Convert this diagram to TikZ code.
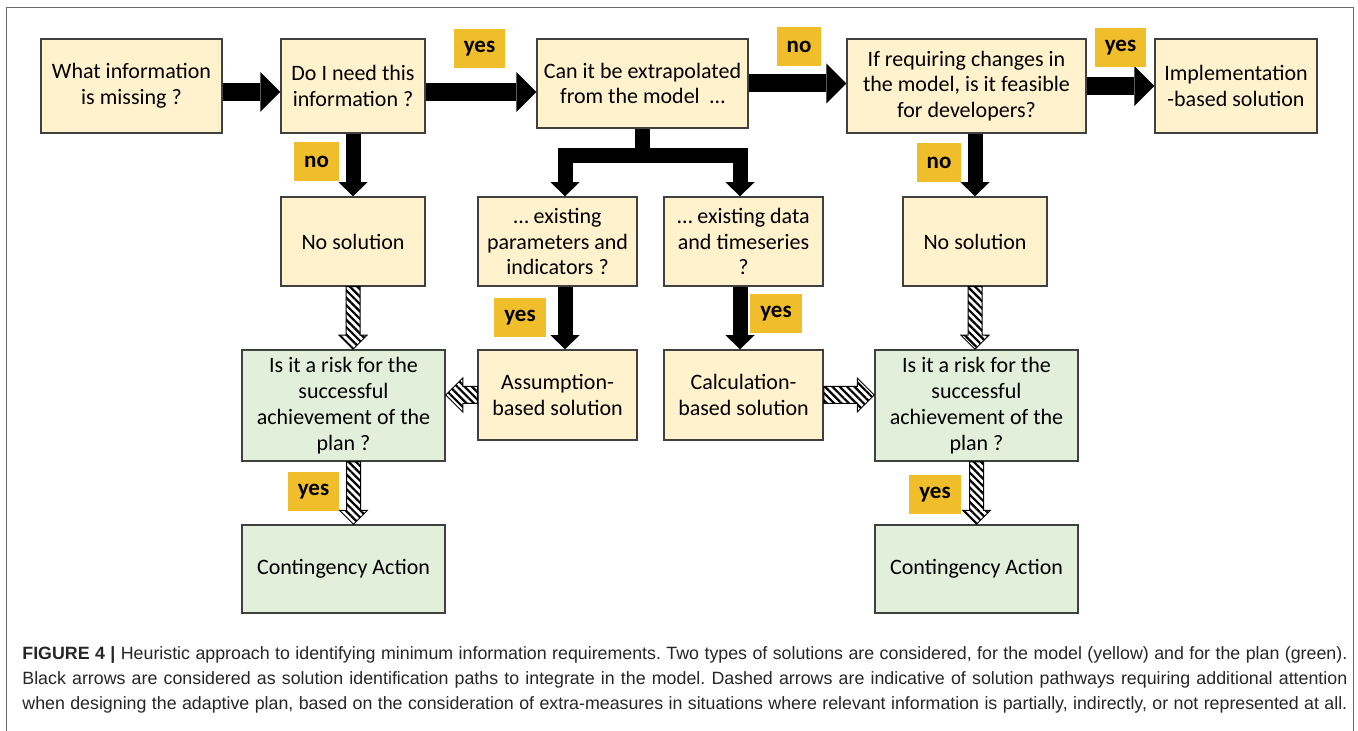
\documentclass[tikz,border=0pt]{standalone}
\usepackage{fontspec}
\setmainfont{Carlito}
\newfontfamily\capfont{Liberation Sans}
\usepackage{tikz}
\usetikzlibrary{arrows.meta,calc,patterns.meta}
\definecolor{FlowYellow}{HTML}{FFF2CC}
\definecolor{FlowGreen}{HTML}{E2EFDA}
\definecolor{FlowGold}{HTML}{F0BE2B}
\definecolor{FlowLine}{HTML}{404040}
\definecolor{FlowFrame}{HTML}{6A6A6A}

\tikzset{
  model/.style={draw=FlowLine,line width=.75pt,fill=FlowYellow,align=center,inner sep=2pt,
    font=\fontsize{11}{12.9}\selectfont},
  plan/.style={model,fill=FlowGreen},
  tag/.style={fill=FlowGold,font=\fontsize{11.5}{12}\selectfont\bfseries,minimum height=19.5pt,
    inner xsep=5pt,inner ysep=0pt},
  wide arrow/.style={line width=9pt,-{Triangle[width=20pt,length=10pt,line width=0pt]}},
  down arrow/.style={line width=7.5pt,-{Triangle[width=14.5pt,length=7pt,line width=0pt]}},
  hatched/.style={draw=black,line width=.5pt,pattern={Lines[angle=-45,distance=2.6pt,line width=1.1pt]}},
}

% hatched arrow: #1 half shaft width, #2 start, #3 tip
\newcommand\hatcharrow[3]{%
  \path #2 coordinate (hs) #3 coordinate (he);
  \path ($(he)!2*#1!(hs)$) coordinate (hm);
  \draw[hatched] ($(hs)!#1!90:(he)$) -- ($(hm)!#1!-90:(hs)$) -- ($(hm)!2*#1!-90:(hs)$) -- (he)
    -- ($(hm)!2*#1!90:(hs)$) -- ($(hm)!#1!90:(hs)$) -- ($(hs)!#1!-90:(he)$) -- cycle;}
% one justified caption line
\newcommand\capline[1]{\makebox[662.5pt][s]{#1}}

\begin{document}
\begin{tikzpicture}[x=.5pt,y=-.5pt]
\path[use as bounding box] (0,0) rectangle (1358,731);
\fill[white] (0,0) rectangle (1358,731);
\draw[FlowFrame,line width=.5pt] (6,731) -- (6,8) -- (1353,8) -- (1353,731);

% top row
\node[model,minimum width=90.5pt,minimum height=47pt] (b1) at (131.5,86) {What information\\is missing ?};
\node[model,minimum width=72pt,minimum height=47pt] (b2) at (353,86) {Do I need this\\information ?};
\node[model,minimum width=105.5pt,minimum height=44.5pt] (b3) at (642.5,83.5) {Can it be extrapolated\\from the model~~…};
\node[model,minimum width=119.5pt,minimum height=47pt] (b4) at (966.5,86) {If requiring changes in\\the model, is it feasible\\for developers?};
\node[model,minimum width=81pt,minimum height=47pt] (b5) at (1236,86) {Implementation\\-based solution};

% second row
\node[model,minimum width=72pt,minimum height=44.5pt] (n1) at (353,241.5) {No solution};
\node[model,minimum width=79.5pt,minimum height=44.5pt] (p1) at (557.5,241.5) {… existing\\parameters and\\indicators ?};
\node[model,minimum width=79.5pt,minimum height=44.5pt] (p2) at (743.5,241.5) {… existing data\\and timeseries\\?};
\node[model,minimum width=72pt,minimum height=44.5pt] (n2) at (975,241.5) {No solution};

% third row
\node[plan,minimum width=101.5pt,minimum height=55.5pt] (r1) at (343.5,405.5) {Is it a risk for the\\successful\\achievement of the\\plan ?};
\node[model,minimum width=79.5pt,minimum height=45pt] (a1) at (557.5,395) {Assumption-\\based solution};
\node[model,minimum width=79.5pt,minimum height=45pt] (c1) at (743.5,395) {Calculation-\\based solution};
\node[plan,minimum width=101.5pt,minimum height=55.5pt] (r2) at (976.5,405.5) {Is it a risk for the\\successful\\achievement of the\\plan ?};

% bottom row
\node[plan,minimum width=101.5pt,minimum height=44pt] (ca1) at (343.5,569) {Contingency Action};
\node[plan,minimum width=101.5pt,minimum height=44pt] (ca2) at (976.5,569) {Contingency Action};

% black arrows
\draw[wide arrow] ([yshift=-3pt]b1.east) -- ([yshift=-3pt]b2.west);
\draw[wide arrow] ([yshift=-3pt]b2.east) -- ([yshift=-3pt]b2.east -| b3.west);
\draw[wide arrow] (b3.east) -- (b3.east -| b4.west);
\draw[wide arrow] (b4.east) -- (b5.west);
\draw[down arrow] (b2.south) -- (n1.north);
\draw[down arrow] (n2.north |- b4.south) -- (n2.north);
\coordinate (fork) at (642.5,156);
\draw[down arrow] (b3.south) -- (b3.south |- fork) -| ([xshift=3.75pt]p1.north);
\draw[down arrow] (b3.south |- fork) -| ([xshift=-1.75pt]p2.north);
\draw[down arrow] ([xshift=3.75pt]p1.south) -- ([xshift=3.75pt]a1.north);
\draw[down arrow] ([xshift=-1.75pt]p2.south) -- ([xshift=-1.75pt]c1.north);

% hatched arrows
\hatcharrow{3.5pt}{(n1.south)}{(n1.south |- r1.north)}
\hatcharrow{3.5pt}{(n2.south)}{(n2.south |- r2.north)}
\hatcharrow{3.5pt}{([xshift=5pt]r1.south)}{([xshift=5pt]ca1.north)}
\hatcharrow{3.5pt}{(r2.south)}{(ca2.north)}
\hatcharrow{4.25pt}{(a1.west)}{(a1.west -| r1.east)}
\hatcharrow{4.25pt}{(c1.east)}{(c1.east -| r2.west)}

% answers
\node[tag] (yes1) at (479.5,48.5) {yes};
\node[tag] (no1) at (799,46.5) {no};
\node[tag] (yes2) at (1120.5,47.5) {yes};
\node[tag] (no2) at (316.5,162) {no};
\node[tag] (no3) at (939,162.5) {no};
\node[tag] (yes3) at (520,318) {yes};
\node[tag] (yes4) at (776,314) {yes};
\node[tag] (yes5) at (313.5,491.5) {yes};
\node[tag] (yes6) at (935,494.5) {yes};

% caption
\node[anchor=north west,inner sep=0pt,align=left,text=black!85,
  font=\capfont\fontsize{8.9}{12.5}\selectfont\frenchspacing] (caption) at (22,646)
  {\capline{\textbf{FIGURE 4 |} Heuristic approach to identifying minimum information requirements. Two types of solutions are considered, for the model (yellow) and for the plan (green).}\\
  \capline{Black arrows are considered as solution identification paths to integrate in the model. Dashed arrows are indicative of solution pathways requiring additional attention}\\
  \capline{when designing the adaptive plan, based on the consideration of extra-measures in situations where relevant information is partially, indirectly, or not represented at all.}};
\end{tikzpicture}
\end{document}
